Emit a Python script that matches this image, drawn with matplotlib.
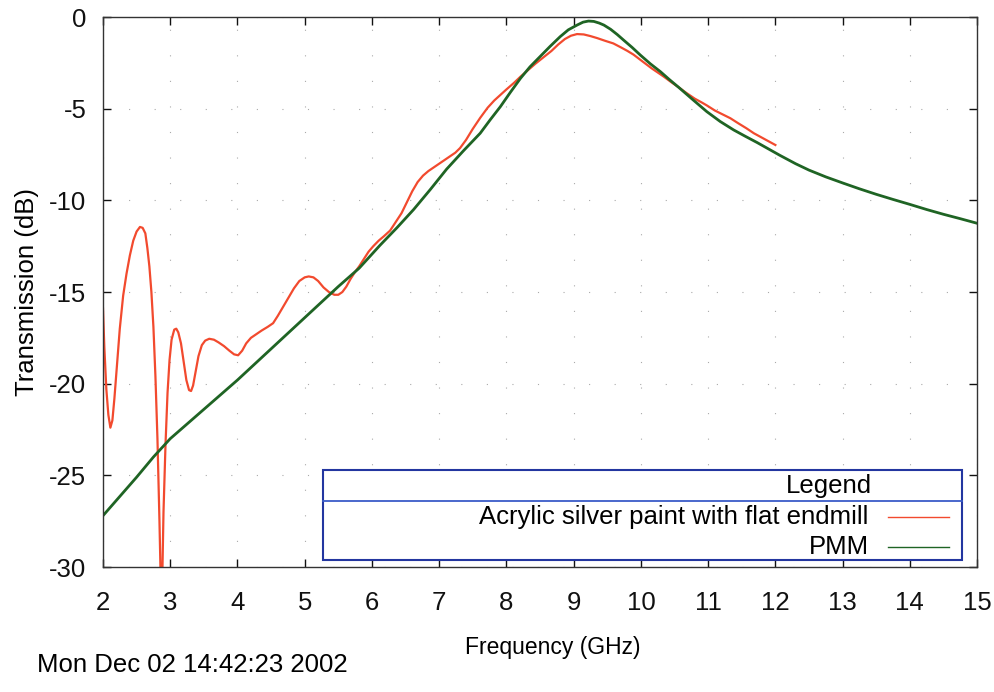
import matplotlib
matplotlib.use('Agg')
import matplotlib.pyplot as plt
from matplotlib.patches import Rectangle
from matplotlib.lines import Line2D

plt.rcParams['font.family'] = ['Liberation Sans', 'DejaVu Sans']
plt.rcParams['axes.unicode_minus'] = False

# acrylic silver paint, flat endmill (red)
f_red = [2.0, 2.02, 2.05, 2.08, 2.11, 2.14, 2.17, 2.21, 2.25, 2.30, 2.35, 2.40, 2.45, 2.50,
         2.55, 2.59, 2.63, 2.66, 2.69, 2.72, 2.75, 2.78, 2.81, 2.84, 2.86, 2.88, 2.90, 2.93,
         2.96, 2.99, 3.02, 3.06, 3.09, 3.12, 3.16, 3.20, 3.24, 3.28, 3.31, 3.34, 3.38, 3.42,
         3.47, 3.52, 3.58, 3.65, 3.72, 3.80, 3.88, 3.95, 4.01, 4.07, 4.13, 4.20, 4.28, 4.36,
         4.45, 4.53, 4.60, 4.68, 4.76, 4.84, 4.92, 5.00, 5.06, 5.13, 5.20, 5.28, 5.36, 5.44,
         5.50, 5.56, 5.62, 5.68, 5.75, 5.81, 5.88, 5.95, 6.02, 6.10, 6.18, 6.27, 6.35, 6.44,
         6.52, 6.60, 6.68, 6.76, 6.84, 6.92, 7.00, 7.08, 7.16, 7.24, 7.31, 7.40, 7.50, 7.61,
         7.72, 7.82, 7.91, 8.00, 8.11, 8.21, 8.32, 8.43, 8.55, 8.67, 8.77, 8.87, 8.96, 9.05,
         9.15, 9.25, 9.35, 9.47, 9.59, 9.70, 9.80, 9.89, 9.98, 10.07, 10.16, 10.24, 10.34, 10.45,
         10.56, 10.68, 10.80, 10.90, 10.98, 11.10, 11.22, 11.33, 11.45, 11.57, 11.68, 11.80, 11.90, 12.0]
t_red = [-15.9, -18.0, -20.3, -21.7, -22.4, -22.0, -20.8, -18.9, -17.0, -15.2, -14.0, -13.0, -12.2, -11.7,
         -11.45, -11.5, -11.8, -12.6, -13.6, -15.0, -16.9, -19.6, -23.0, -27.5, -31.0, -31.0, -27.0, -23.3,
         -20.5, -18.7, -17.6, -17.05, -17.0, -17.2, -17.8, -18.8, -19.8, -20.35, -20.4, -20.1, -19.3, -18.5,
         -17.9, -17.65, -17.55, -17.6, -17.75, -17.95, -18.2, -18.4, -18.45, -18.2, -17.8, -17.5, -17.3, -17.1,
         -16.9, -16.7, -16.3, -15.8, -15.3, -14.8, -14.4, -14.2, -14.15, -14.2, -14.4, -14.75, -15.0, -15.15,
         -15.15, -15.0, -14.7, -14.3, -13.9, -13.6, -13.2, -12.8, -12.5, -12.2, -11.95, -11.65, -11.2, -10.7,
         -10.1, -9.5, -9.0, -8.65, -8.4, -8.2, -8.0, -7.8, -7.6, -7.4, -7.15, -6.7, -6.1, -5.5,
         -4.95, -4.55, -4.25, -3.95, -3.6, -3.25, -2.9, -2.55, -2.2, -1.85, -1.5, -1.2, -1.02, -0.93,
         -0.95, -1.04, -1.15, -1.3, -1.44, -1.65, -1.85, -2.05, -2.3, -2.55, -2.8, -3.0, -3.25, -3.55,
         -3.83, -4.15, -4.45, -4.65, -4.82, -5.1, -5.32, -5.52, -5.8, -6.07, -6.34, -6.58, -6.78, -6.98]

# PMM (green)
f_grn = [2.0, 2.25, 2.5, 2.75, 3.0, 3.25, 3.5, 3.75, 4.0, 4.5, 5.0, 5.5, 5.81, 6.12, 6.37, 6.62,
         6.87, 7.11, 7.36, 7.61, 7.76, 7.91, 8.06, 8.21, 8.35, 8.5, 8.65, 8.8, 8.92, 9.05, 9.14,
         9.22, 9.3, 9.38, 9.45, 9.55, 9.65, 9.74, 9.87, 9.99, 10.14, 10.29, 10.42, 10.56, 10.77,
         10.98, 11.18, 11.38, 11.55, 11.73, 11.9, 12.07, 12.3, 12.5, 12.75, 13.0, 13.25, 13.5,
         13.75, 14.0, 14.25, 14.5, 14.75, 15.0]
t_grn = [-27.2, -26.15, -25.1, -24.0, -23.0, -22.2, -21.4, -20.6, -19.8, -18.1, -16.4, -14.7, -13.7, -12.45, -11.5, -10.5,
         -9.4, -8.3, -7.3, -6.34, -5.6, -4.89, -4.1, -3.34, -2.72, -2.16, -1.6, -1.07, -0.7, -0.44, -0.28,
         -0.22, -0.24, -0.33, -0.44, -0.67, -0.96, -1.25, -1.66, -2.07, -2.55, -2.98, -3.4, -3.83, -4.5,
         -5.16, -5.7, -6.16, -6.5, -6.85, -7.2, -7.55, -8.0, -8.35, -8.72, -9.05, -9.37, -9.67,
         -9.95, -10.22, -10.5, -10.76, -11.0, -11.25]

labels = ['Acrylic silver paint with flat endmill', 'PMM']
red = '#f24a2e'
green = '#1f6424'
fs = 18.5

fig = plt.figure(figsize=(9.95, 6.92), dpi=100)
ax = fig.add_axes([0.1035, 0.1806, 0.8785, 0.7948])

ax.plot(f_red, t_red, color=red, lw=1.6)
ax.plot(f_grn, t_grn, color=green, lw=2.0)

ax.set_xlim(2, 15)
ax.set_ylim(-30, 0)
ax.set_xticks(range(2, 16))
ax.set_yticks(range(-30, 1, 5))
ax.grid(True, color='#aaaaaa', lw=0.8, linestyle=(0, (1, 22)))
ax.tick_params(direction='in', length=6, width=1, top=True, right=True, labelsize=fs, colors='#111111')
ax.tick_params(axis='x', pad=17)
ax.tick_params(axis='y', pad=12)
for s in ax.spines.values():
    s.set_linewidth(1.0)
    s.set_color('#333333')

ax.set_xlabel('Frequency (GHz)', fontsize=16.5)
ax.set_ylabel('Transmission (dB)', fontsize=fs)
ax.xaxis.set_label_coords(0.515, -0.125)
ax.yaxis.set_label_coords(-0.073, 0.5)

# legend box drawn by hand, gnuplot style
tr = ax.transAxes
ax.add_patch(Rectangle((0.252, 0.013), 0.731, 0.163, transform=tr, fill=True,
                       facecolor='white', edgecolor='#2336a0', lw=1.5, zorder=5))
ax.add_line(Line2D([0.252, 0.983], [0.12, 0.12], transform=tr, color='#3a5cc8', lw=1.3, zorder=6))
ax.text(0.880, 0.147, 'Legend', transform=tr, ha='right', va='center', fontsize=fs, zorder=6)
rows = [0.091, 0.036]
for lab, c, yy in zip(labels, [red, green], rows):
    ax.text(0.876, yy, lab, transform=tr, ha='right', va='center', fontsize=fs, zorder=6)
    ax.add_line(Line2D([0.898, 0.968], [yy, yy], transform=tr, color=c, lw=1.0, zorder=6))

fig.text(0.037, 0.039, 'Mon Dec 02 14:42:23 2002', fontsize=fs, va='center', ha='left')

fig.savefig('out.png', dpi=100)
